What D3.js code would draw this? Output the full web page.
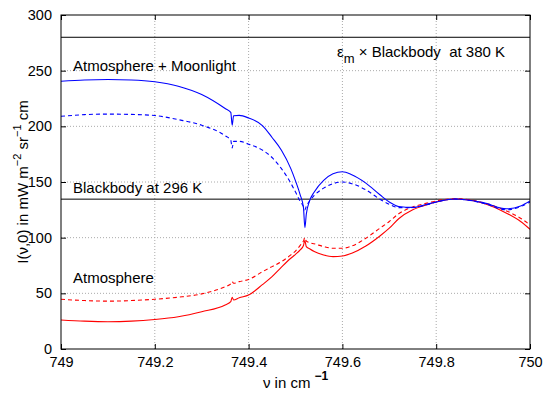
<!DOCTYPE html>
<html>
<head>
<meta charset="utf-8">
<script src="https://cdn.jsdelivr.net/npm/d3@7"></script>
<style>
  body { margin: 0; background: #fff; }
  text { font-family: "Liberation Sans", Arial, sans-serif; fill: #000; white-space: pre; }
</style>
</head>
<body>
<svg id="chart" width="554" height="393"></svg>
<script>
// wavenumber grid (cm^-1)
const nu = [749.0, 749.05, 749.1, 749.15, 749.2, 749.25, 749.3, 749.35, 749.362, 749.365, 749.368,
  749.38, 749.4, 749.43, 749.45, 749.47, 749.49, 749.5, 749.51, 749.517, 749.52, 749.523, 749.53,
  749.54, 749.56, 749.58, 749.6, 749.62, 749.65, 749.68, 749.7, 749.72, 749.75, 749.78, 749.8,
  749.84, 749.9, 749.95, 749.98, 750.0];

// atmosphere + moonlight, solid / dashed
const moonSolid = [240.5, 241.6, 242, 241.6, 240, 236, 228.5, 216, 212.5, 201, 209.5,
  209.8, 207.5, 200.5, 190, 178.5, 162, 151, 138.5, 127, 109, 121, 133,
  141, 151.5, 157.5, 159.2, 156.5, 149, 138.5, 132, 128, 127.2, 130, 132,
  134.7, 131.5, 126, 128.5, 133];
const moonDashed = [209, 210.5, 211, 210.7, 209.7, 206, 201, 191.5, 187.5, 180.5, 186.5,
  186.5, 184, 178.5, 172, 162, 149, 141, 132.5, 128, 125, 128, 133,
  138, 144.5, 148.5, 150, 148.5, 143, 134.5, 130, 127, 127, 129.5, 132,
  134.7, 131, 125, 128, 132];

// atmosphere only, solid / dashed
const atmSolid = [26, 25, 24.5, 25, 26.5, 29, 33.5, 39.5, 42.5, 46.5, 44,
  46, 48.5, 58, 65, 73.5, 81.5, 85, 89, 93, 97.5, 92, 90,
  87.5, 84.5, 83, 83.5, 86, 92.5, 101.5, 108.5, 117, 125, 129.5, 132,
  134.7, 131, 122, 114.5, 107.5];
const atmDashed = [44.7, 43.5, 43, 43.5, 44.7, 46.5, 49.5, 56, 58.5, 60.5, 59,
  60.5, 62.5, 69.5, 74, 78.5, 84.5, 88, 93, 97, 100, 97, 95.5,
  94.5, 92, 90.5, 90.5, 92.5, 99.5, 108.5, 114.5, 121.5, 127.5, 131, 133,
  135, 131.5, 124, 117.5, 111.5];

// reference levels
const bbLevels = [280, 134.6];

const xTicks = [749, 749.2, 749.4, 749.6, 749.8, 750];
const xTickLabels = ["749", "749.2", "749.4", "749.6", "749.8", "750"];
const yTicks = [0, 50, 100, 150, 200, 250, 300];

const margin = { top: 15, right: 24, bottom: 44, left: 61 };
const W = 554, H = 393;
const iw = W - margin.left - margin.right;
const ih = H - margin.top - margin.bottom;

const svg = d3.select('#chart');
const g = svg.append('g').attr('transform', `translate(${margin.left},${margin.top})`);

const x = d3.scaleLinear().domain([749, 750]).range([0, iw]);
const y = d3.scaleLinear().domain([0, 300]).range([ih, 0]);

// grid
g.append('g').selectAll('line')
  .data(xTicks.slice(1, -1))
  .enter().append('line')
  .attr('x1', d => x(d)).attr('x2', d => x(d))
  .attr('y1', 0).attr('y2', ih)
  .attr('stroke', '#aaa').attr('stroke-dasharray', '1,2');
g.append('g').selectAll('line')
  .data(yTicks.slice(1, -1))
  .enter().append('line')
  .attr('y1', d => y(d)).attr('y2', d => y(d))
  .attr('x1', 0).attr('x2', iw)
  .attr('stroke', '#aaa').attr('stroke-dasharray', '1,2');

// axes (MATLAB style: ticks inward on all four sides)
const tickLen = 5;
const xAx = g.append('g').attr('transform', `translate(0,${ih})`)
  .call(d3.axisBottom(x).tickValues(xTicks).tickFormat((d, i) => xTickLabels[i]).tickSizeInner(-tickLen).tickSizeOuter(0).tickPadding(9));
g.append('g')
  .call(d3.axisTop(x).tickValues(xTicks).tickFormat('').tickSizeInner(-tickLen).tickSizeOuter(0));
g.append('g')
  .call(d3.axisLeft(y).tickValues(yTicks).tickSizeInner(-tickLen).tickSizeOuter(0).tickPadding(9));
g.append('g').attr('transform', `translate(${iw},0)`)
  .call(d3.axisRight(y).tickValues(yTicks).tickFormat('').tickSizeInner(-tickLen).tickSizeOuter(0));
g.selectAll('.domain').remove();
g.selectAll('.tick line').attr('stroke', '#000');
g.selectAll('.tick text').style('font-size', '14.5px').attr('fill', '#000');
xAx.selectAll('.tick text').attr('dy', '0.6em');

// clip
svg.append('defs').append('clipPath').attr('id', 'clip')
  .append('rect').attr('width', iw).attr('height', ih);
const plot = g.append('g').attr('clip-path', 'url(#clip)');

// reference lines
plot.selectAll('.bb').data(bbLevels).enter().append('line')
  .attr('x1', 0).attr('x2', iw)
  .attr('y1', d => y(d)).attr('y2', d => y(d))
  .attr('stroke', '#000').attr('stroke-width', 1);

const line = d3.line().x(d => x(d[0])).y(d => y(d[1])).curve(d3.curveMonotoneX);
const series = [
  { vals: atmDashed, color: '#ff0000', dash: '4,3' },
  { vals: atmSolid, color: '#ff0000', dash: null },
  { vals: moonDashed, color: '#0000ff', dash: '4,3' },
  { vals: moonSolid, color: '#0000ff', dash: null }
];
plot.selectAll('.curve').data(series).enter().append('path')
  .attr('d', s => line(nu.map((v, i) => [v, s.vals[i]])))
  .attr('fill', 'none')
  .attr('stroke', s => s.color)
  .attr('stroke-width', 1.1)
  .attr('stroke-dasharray', s => s.dash);

// frame
g.append('rect').attr('width', iw).attr('height', ih)
  .attr('fill', 'none').attr('stroke', '#000').attr('stroke-width', 1);

// annotations
const ann = g.append('g').style('font-size', '15px');
ann.append('text').attr('x', 12).attr('y', 71 - margin.top).text('Atmosphere + Moonlight');
ann.append('text').attr('x', 12).attr('y', 193 - margin.top).text('Blackbody at 296 K');
ann.append('text').attr('x', 12).attr('y', 283 - margin.top).text('Atmosphere');
const em = ann.append('text').attr('x', 337 - margin.left).attr('y', 57 - margin.top);
em.append('tspan').text('ε');
em.append('tspan').attr('dy', 6).style('font-size', '13px').text('m');
em.append('tspan').attr('dy', -6).text(' × Blackbody  at 380 K');

// axis labels
const xl = svg.append('text').attr('x', margin.left + iw / 2).attr('y', 388)
  .attr('text-anchor', 'middle').style('font-size', '15px');
xl.append('tspan').text('ν in cm');
xl.append('tspan').attr('dx', 4).attr('dy', -8).style('font-size', '12px').style('font-weight', 'bold').text('−1');

const yl = svg.append('text')
  .attr('transform', `translate(28,${margin.top + ih / 2}) rotate(-90)`)
  .attr('text-anchor', 'middle').style('font-size', '15px');
yl.append('tspan').text('I(ν,0) in mW m');
yl.append('tspan').attr('dy', -7).style('font-size', '11px').text('−2');
yl.append('tspan').attr('dy', 7).text(' sr');
yl.append('tspan').attr('dy', -7).style('font-size', '11px').text('−1');
yl.append('tspan').attr('dy', 7).text(' cm');
</script>
</body>
</html>
